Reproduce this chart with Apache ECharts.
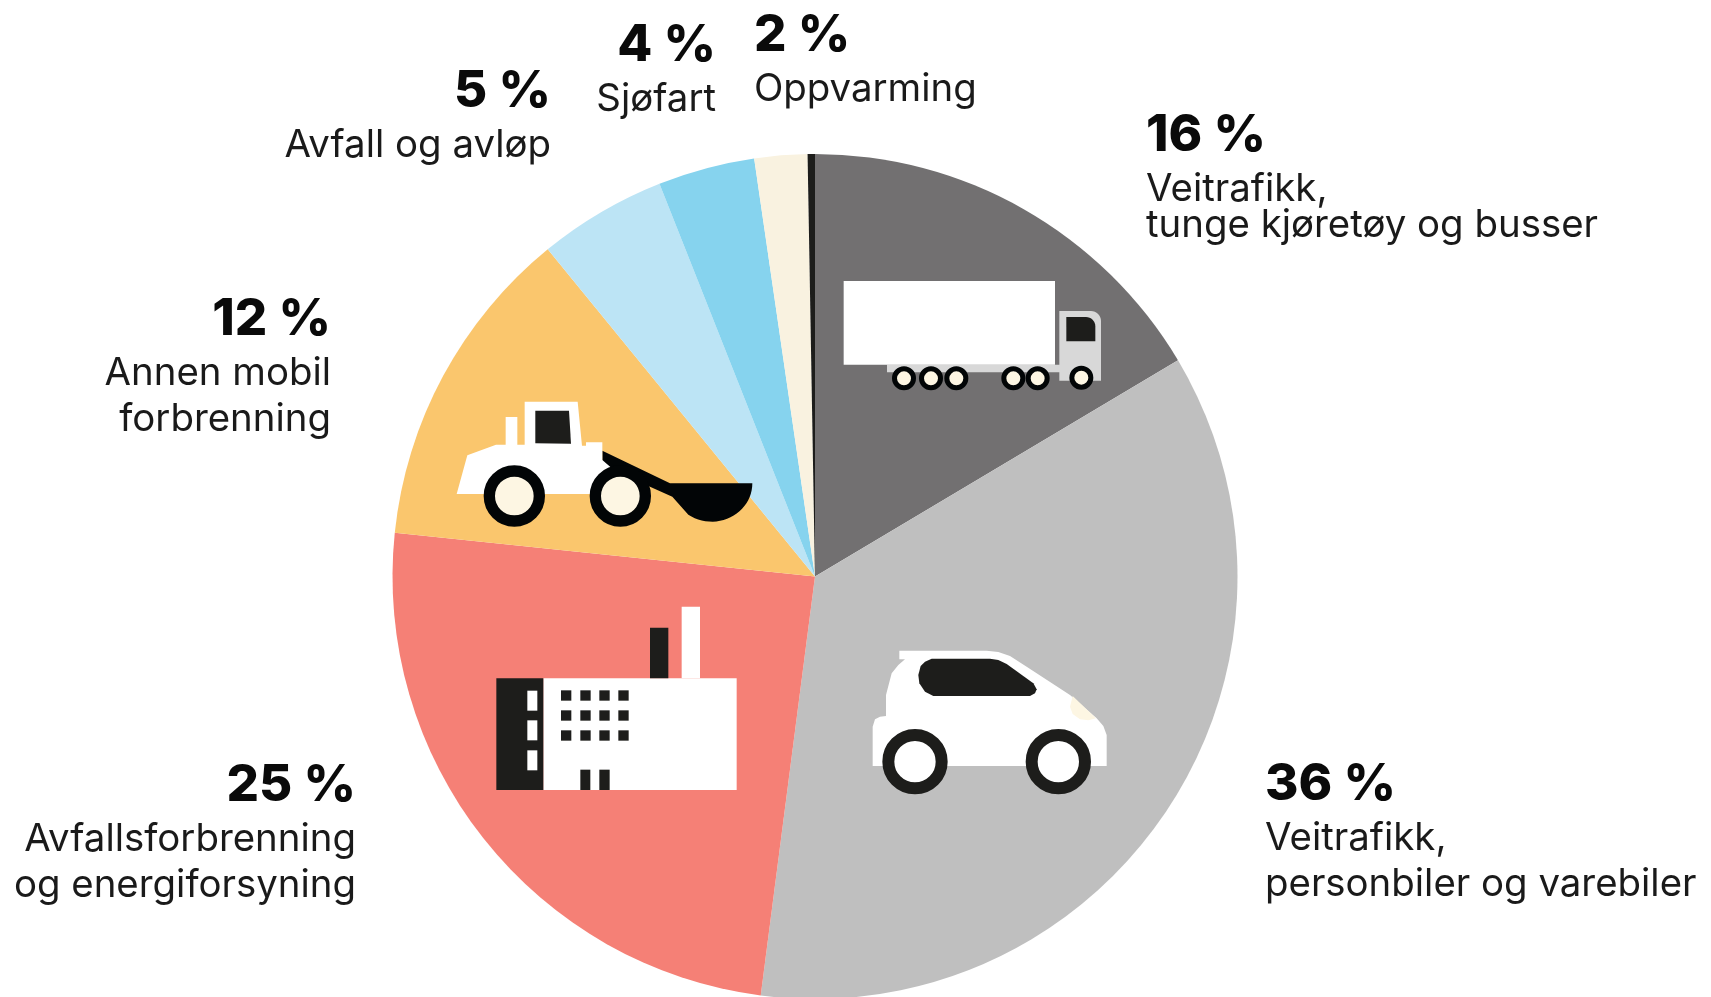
<!DOCTYPE html>
<html><head><meta charset="utf-8">
<style>html,body{margin:0;padding:0;background:#fff}#c{width:1711px;height:997px}</style>
<script src="https://cdn.jsdelivr.net/npm/echarts@6/dist/echarts.min.js"></script>
</head><body><div id="c"></div>
<script>
// Data: slice sizes as drawn in the picture, and the printed labels
const categories = ['Veitrafikk,\ntunge kjøretøy og busser','Veitrafikk,\npersonbiler og varebiler','Avfallsforbrenning\nog energiforsyning','Annen mobil\nforbrenning','Avfall og avløp','Sjøfart','Oppvarming',''];
const sliceShares = [16.45,35.6,24.6,12.45,4.9,3.7,2.02,0.28];
const percentLabels = ['16 %','36 %','25 %','12 %','5 %','4 %','2 %',''];
const sliceColors = ['#727071','#bfbfbf','#f58076','#fac66d','#bce4f5','#86d3ee','#f9f2e0','#1d1d1b'];
// Label layout (pixels)
const labelX = [1146,1265,356,331,551,716,754,0];
const labelY = [100,754,755,289,61,15,5,0];
const labelAlign = ['left','left','right','right','right','right','left','left'];
const lineStyleKey = ['tight','t','t','t','t','t','t','t'];
const percentStyleKey = ['pt','p','p','p','p','p','p','p'];

const FONT = 'Inter';
const K='#1d1d1b', W='#ffffff', CR='#fdf6e3', B='#020506';
const ov=[];
const z=10;
function pts(ox,oy,a){return a.map(p=>[ox+p[0]/3,oy+p[1]/3]);}
function poly(ox,oy,a,fill){ov.push({type:'polygon',z,silent:true,shape:{points:pts(ox,oy,a)},style:{fill}});}
function rect(ox,oy,x0,y0,x1,y1,fill,r){ov.push({type:'rect',z,silent:true,shape:{x:ox+x0/3,y:oy+y0/3,width:(x1-x0)/3,height:(y1-y0)/3,r:r||0},style:{fill}});}
function wheel(ox,oy,cx,cy,rOut,rIn,stroke,fill){const r=(rOut+rIn)/2/3;ov.push({type:'circle',z,silent:true,shape:{cx:ox+cx/3,cy:oy+cy/3,r},style:{fill,stroke,lineWidth:(rOut-rIn)/3}});}
function arc(cx,cy,rx,ry,a0,a1,n){const o=[];for(let i=0;i<=n;i++){const a=(a0+(a1-a0)*i/n)*Math.PI/180;o.push([cx+rx*Math.cos(a),cy+ry*Math.sin(a)]);}return o;}

// Truck
{const ox=780,oy=140;
 poly(ox,oy,[[321,674],[838,674],[838,513],...arc(933,543,30,30,-90,0,8),[963,722],[838,722],[838,697],[321,697]],'#d8d8d8');
 rect(ox,oy,191,423,825,674,W);
 poly(ox,oy,[[859,531],...arc(918,559,28,28,-90,0,8),[946,604],[859,604]],K);
 [[372,715],[453,715],[529,715],[700,715],[773,715],[904,713]].forEach(c=>wheel(ox,oy,c[0],c[1],36,21,B,CR));
}
// Loader
{const ox=440,oy=380;
 poly(ox,oy,[[487,212],[690,310],[937,310],...arc(815,310,122,115,0,125,24),[697,350],[625,318],[487,262]],B);
 poly(ox,oy,[[50,342],[82,226],[168,194],[197,194],[197,111],[232,111],[232,194],[254,194],[254,65],[413,65],[426,197],[438,197],[438,187],[487,187],[487,240],[512,262],[512,342]],W);
 poly(ox,oy,[[286,92],[387,92],[393,191],[286,190]],K);
 wheel(ox,oy,223,348,92,58,B,CR);
 wheel(ox,oy,541,348,92,58,B,CR);
}
// Factory
{const ox=480,oy=590;
 rect(ox,oy,190,265,770,600,W);
 rect(ox,oy,49,265,190,600,K);
 rect(ox,oy,510,113,565,265,K);
 rect(ox,oy,605,50,660,265,W);
 [302,391,481].forEach(y=>rect(ox,oy,142,y,172,y+60,W));
 [243,301,358,415].forEach(x=>[301,361,421].forEach(y=>rect(ox,oy,x,y,x+31,y+31,K)));
 rect(ox,oy,301,539,331,600,K);
 rect(ox,oy,358,539,389,600,K);
}
// Car
{const ox=850,oy=630;
 poly(ox,oy,[[148,62],[410,62],[445,66],[480,78],[530,110],[660,195],[740,265],[760,288],[770,315],[770,408],[68,408],[68,290],[75,268],[90,260],[108,258],[108,195],[125,130],[145,105],[165,88],[148,88]],W);
 poly(ox,oy,[[245,86],[420,86],[445,90],[470,102],[550,160],[560,178],[555,190],[540,198],[250,198],[225,185],[208,160],[205,135],[212,108],[225,95]],K);
 poly(ox,oy,[[668,198],[738,265],[715,271],[690,268],[668,252],[660,230]],CR);
 wheel(ox,oy,195,395,98,62,K,W);
 wheel(ox,oy,625,395,98,62,K,W);
}

const chart = echarts.init(document.getElementById('c'),null,{renderer:'canvas'});
chart.setOption({
  animation:false,
  backgroundColor:'#ffffff',
  graphic:ov,
  series:[{
    type:'pie',
    silent:true,
    center:[815,576.5],
    radius:[0,422.5],
    startAngle:90,
    clockwise:true,
    avoidLabelOverlap:false,
    itemStyle:{borderWidth:0},
    labelLine:{show:false},
    data:sliceShares.map((v,i)=>({
      value:v,name:categories[i],
      itemStyle:{color:sliceColors[i]},
      label:{
        show:percentLabels[i]!=='',
        position:'outside',
        formatter:'{'+percentStyleKey[i]+'|'+percentLabels[i]+'}\n'+categories[i].split('\n').map(s=>'{'+lineStyleKey[i]+'|'+s+'}').join('\n'),
        rich:{
          p:{fontFamily:FONT,fontWeight:800,fontSize:51,lineHeight:61,color:'#0a0a0a'},
          pt:{fontFamily:FONT,fontWeight:800,fontSize:51,lineHeight:71,color:'#0a0a0a'},
          t:{fontFamily:FONT,fontWeight:400,fontSize:38.4,lineHeight:46,color:'#1a1a1a'},
          tight:{fontFamily:FONT,fontWeight:400,fontSize:38.4,lineHeight:36,color:'#1a1a1a'}
        }
      }
    })),
    labelLayout:function(p){
      const i=p.dataIndex;
      return {x:labelX[i],y:labelY[i],align:labelAlign[i],verticalAlign:'top',hideOverlap:false};
    }
  }]
});
</script></body></html>
